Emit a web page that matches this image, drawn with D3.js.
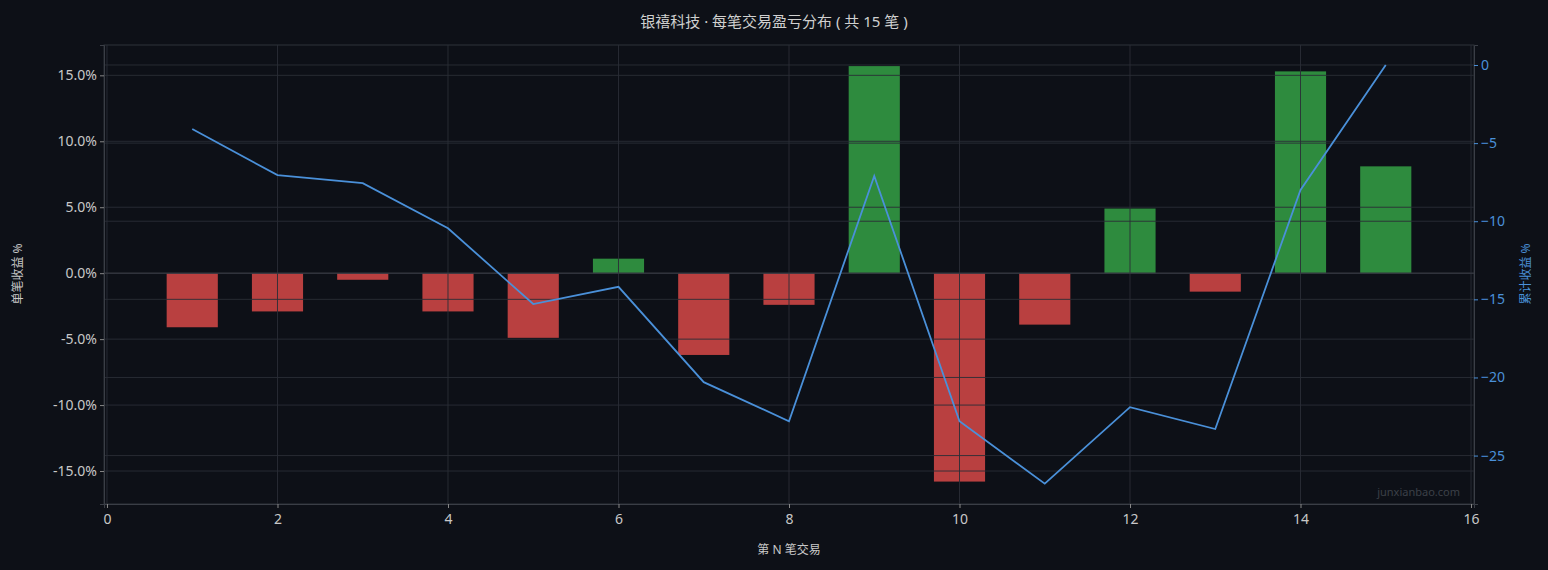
<!DOCTYPE html><html><head><meta charset="utf-8"><script src="https://cdn.jsdelivr.net/npm/d3@7"></script>
<style>body{margin:0;background:#0d1017;}svg{display:block;font-family:"Noto Sans","Noto Sans CJK SC",sans-serif;}</style></head><body>
<svg id="c" width="1548" height="570"></svg>
<script>
const trades=[1,2,3,4,5,6,7,8,9,10,11,12,13,14,15];
const pnl=[-4.1,-2.9,-0.5,-2.9,-4.9,1.1,-6.2,-2.4,15.7,-15.8,-3.9,4.9,-1.4,15.3,8.1];
const cum=[-4.1,-7.05,-7.56,-10.45,-15.3,-14.2,-20.3,-22.8,-7.1,-22.8,-26.8,-21.9,-23.3,-8.0,0];
const xTicks=[0,2,4,6,8,10,12,14,16];
const leftTicks=[-15,-10,-5,0,5,10,15];
const rightTicks=[-25,-20,-15,-10,-5,0];
const L=104,R=1474,T=45,B=504;
const svg=d3.select("#c");
const x=d3.scaleLinear().domain([-0.035,16.035]).range([L,R]);
const y=d3.scaleLinear().domain([-17.5,17.3]).range([B,T]);
const y2=d3.scaleLinear().domain([-28.1,1.28]).range([B,T]);
const grid="#2a2e36";
svg.append("rect").attr("x",L).attr("y",T).attr("width",R-L).attr("height",B-T).attr("fill","#0d1017").attr("stroke","#2f333b");
// bars
svg.selectAll(".bar").data(trades).enter().append("rect")
 .attr("x",d=>x(d-0.3)).attr("width",x(0.6)-x(0))
 .attr("y",(d,i)=>y(Math.max(0,pnl[i]))).attr("height",(d,i)=>Math.abs(y(pnl[i])-y(0)))
 .attr("fill",(d,i)=>pnl[i]>=0?"#2e8b3e":"#b94040");
// grids (drawn over bars)
const g=svg.append("g");
xTicks.forEach(t=>g.append("line").attr("x1",x(t)).attr("x2",x(t)).attr("y1",T).attr("y2",B).attr("stroke",grid).attr("stroke-opacity",0.9));
leftTicks.forEach(t=>g.append("line").attr("x1",L).attr("x2",R).attr("y1",y(t)).attr("y2",y(t)).attr("stroke",grid).attr("stroke-opacity",0.9));
rightTicks.forEach(t=>g.append("line").attr("x1",L).attr("x2",R).attr("y1",y2(t)).attr("y2",y2(t)).attr("stroke",grid).attr("stroke-opacity",0.9));
g.append("line").attr("x1",L).attr("x2",R).attr("y1",y(0)).attr("y2",y(0)).attr("stroke","#3a3e46");
// line
svg.append("path").datum(trades).attr("fill","none").attr("stroke","#4a90d9").attr("stroke-width",1.8)
 .attr("d",d3.line().x(d=>x(d)).y((d,i)=>y2(cum[i])));
// axes
const ax=svg.append("g").attr("transform",`translate(0,${B})`).call(d3.axisBottom(x).tickValues(xTicks).tickSize(4));
const ay=svg.append("g").attr("transform",`translate(${L},0)`).call(d3.axisLeft(y).tickValues(leftTicks).tickSize(4).tickFormat(d=>d.toFixed(1)+"%"));
const ay2=svg.append("g").attr("transform",`translate(${R},0)`).call(d3.axisRight(y2).tickValues(rightTicks).tickSize(4));
[ax,ay].forEach(a=>{a.select(".domain").attr("stroke","#3a3e46");a.selectAll("line").attr("stroke","#888");a.selectAll("text").attr("fill","#c8c8c8").attr("font-size",14).attr("font-family","Noto Sans");});
ay2.select(".domain").attr("stroke","#3a3e46");ay2.selectAll("line").attr("stroke","#4a90d9");ay2.selectAll("text").attr("fill","#4a90d9").attr("font-size",14).attr("font-family","Noto Sans");
ax.selectAll("text").attr("dy","0.9em");
svg.append("text").attr("x",774).attr("y",27).attr("text-anchor","middle").attr("fill","#d0d0d0").attr("font-size",15).text("银禧科技 · 每笔交易盈亏分布 ( 共 15 笔 )");
svg.append("text").attr("x",789).attr("y",554).attr("text-anchor","middle").attr("fill","#c8c8c8").attr("font-size",12).text("第 N 笔交易");
svg.append("text").attr("transform","translate(22,274) rotate(-90)").attr("text-anchor","middle").attr("fill","#c8c8c8").attr("font-size",12).text("单笔收益 %");
svg.append("text").attr("transform","translate(1530,274) rotate(-90)").attr("text-anchor","middle").attr("fill","#4a90d9").attr("font-size",12).text("累计收益 %");
svg.append("text").attr("x",1460).attr("y",496).attr("text-anchor","end").attr("fill","#3c4048").attr("font-size",11).text("junxianbao.com");
</script></body></html>
